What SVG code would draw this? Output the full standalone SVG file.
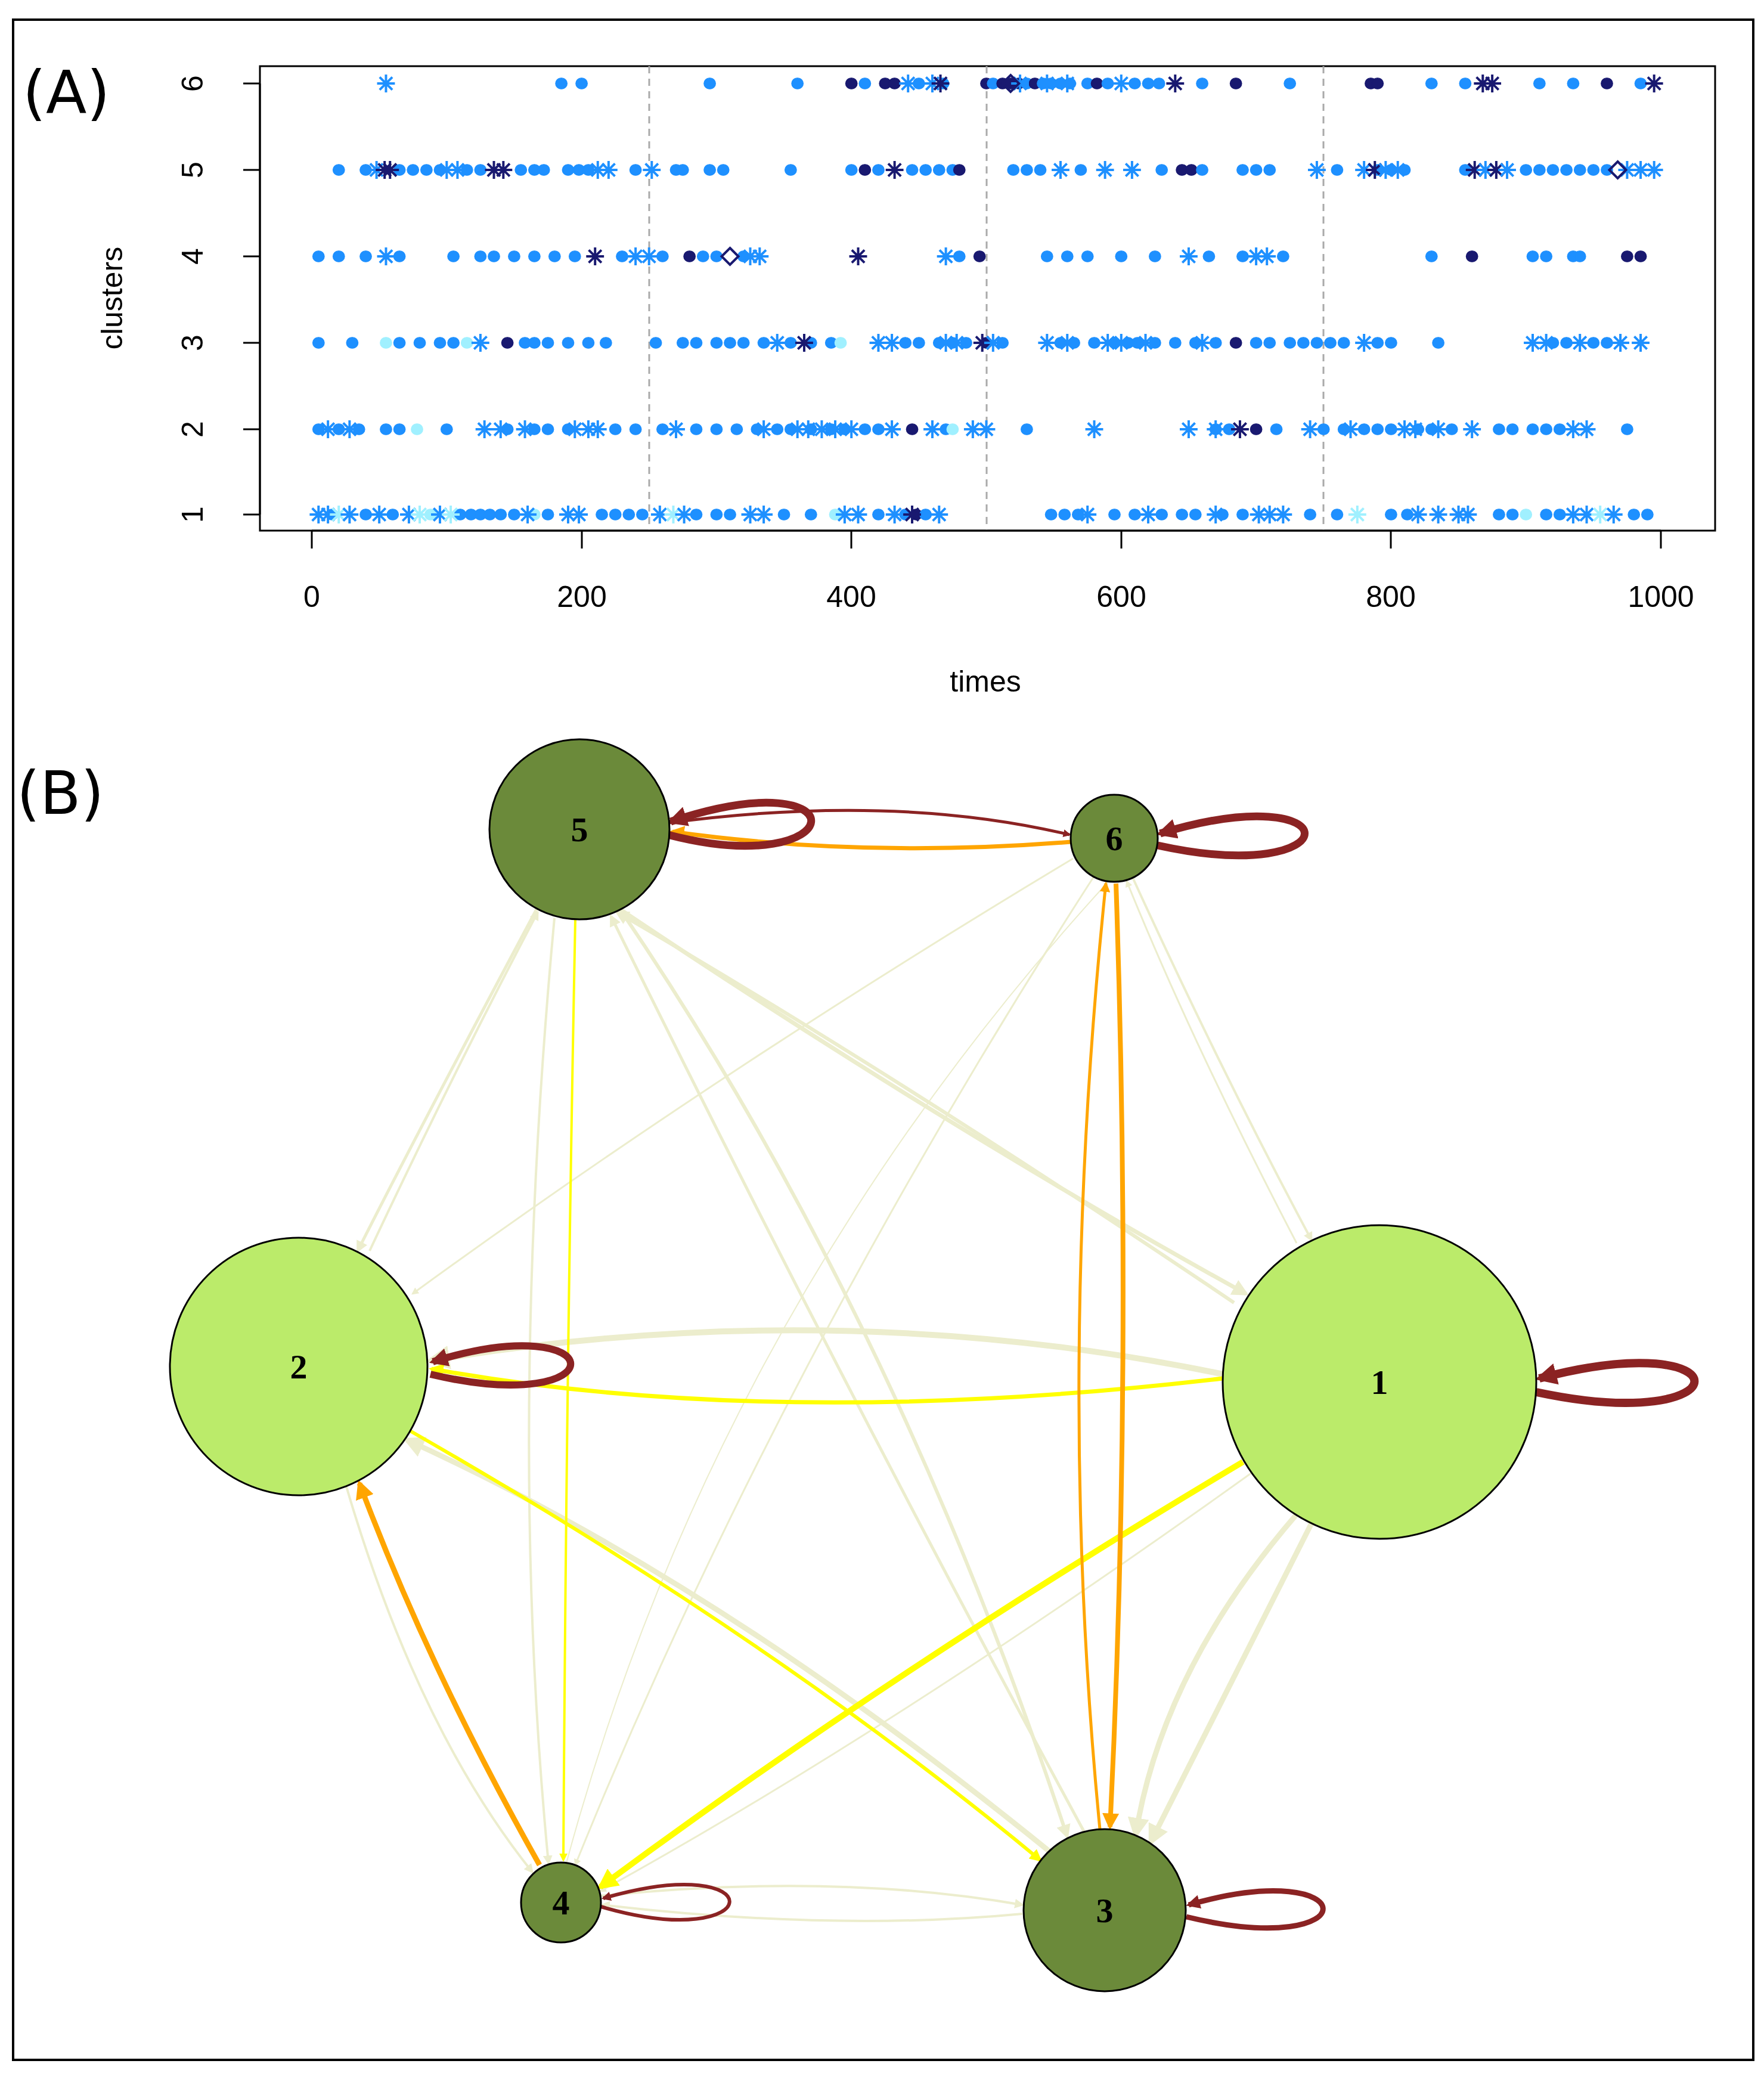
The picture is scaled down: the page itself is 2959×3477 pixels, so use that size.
<svg xmlns="http://www.w3.org/2000/svg" width="2959" height="3477" viewBox="0 0 2959 3477">
<style>
.ax{font-family:"Liberation Sans",Arial,sans-serif;font-size:50px;fill:#000}
.pl{font-family:"DejaVu Sans",sans-serif;font-size:100px;fill:#000}
.nl{font-family:"Liberation Serif",serif;font-size:58px;font-weight:bold;fill:#000;text-anchor:middle;dominant-baseline:central}
.e{fill:none}
.b{fill:#1e90ff;stroke:#1e90ff}.n{fill:#191970;stroke:#191970}.l{fill:#a0f0ff;stroke:#a0f0ff}
</style>
<defs>
<ellipse id="d" rx="4.1" ry="9.3"/>
<g id="s" fill="none" stroke-width="4"><path vector-effect="non-scaling-stroke" d="M0,-15V15M-6.6,0H6.6M-4.7,-10.6L4.7,10.6M-4.7,10.6L4.7,-10.6"/></g>
<polygon id="dm" points="0,-14 6.2,0 0,14 -6.2,0" fill="none" stroke="#191970" stroke-width="4" vector-effect="non-scaling-stroke"/>
<marker id="mr" viewBox="0 0 10 10" refX="8" refY="5" markerWidth="2.6" markerHeight="2.6" orient="auto"><path d="M0,0L10,5L0,10z" fill="#8b2323"/></marker>
<marker id="mo" viewBox="0 0 10 10" refX="8" refY="5" markerWidth="3.5" markerHeight="3.5" orient="auto"><path d="M0,0L10,5L0,10z" fill="#ffa500"/></marker>
<marker id="my" viewBox="0 0 10 10" refX="8" refY="5" markerWidth="3.5" markerHeight="3.5" orient="auto"><path d="M0,0L10,5L0,10z" fill="#ffff00"/></marker>
<marker id="mb" viewBox="0 0 10 10" refX="8" refY="5" markerWidth="4" markerHeight="4" orient="auto"><path d="M0,0L10,5L0,10z" fill="#ecedcd"/></marker>
</defs>
<rect width="2959" height="3477" fill="#fff"/>
<rect x="22" y="33" width="2919" height="3422" fill="none" stroke="#000" stroke-width="4"/>
<g id="panelA">
<text class="pl" x="38" y="190">(A)</text>
<rect x="436" y="111" width="2441" height="779" fill="none" stroke="#000" stroke-width="3"/>
<g stroke="#aaa" stroke-width="3" stroke-dasharray="12,9"><path d="M1089,111V890M1655,111V890M2220,111V890"/></g>
<g stroke="#000" stroke-width="3"><path d="M523,890V920M2786,890H523M976,890V920M1428,890V920M1881,890V920M2333,890V920M2786,890V920"/>
<path d="M436,140H408M436,863H408M436,140V863M436,285H408M436,430H408M436,575H408M436,720H408"/></g>
<g class="ax" text-anchor="middle"><text x="523" y="1018">0</text><text x="976" y="1018">200</text><text x="1428" y="1018">400</text><text x="1881" y="1018">600</text><text x="2333" y="1018">800</text><text x="2786" y="1018">1000</text>
<text x="1653" y="1160">times</text>
<text transform="translate(340,140) rotate(-90)">6</text><text transform="translate(340,285) rotate(-90)">5</text><text transform="translate(340,430) rotate(-90)">4</text><text transform="translate(340,575) rotate(-90)">3</text><text transform="translate(340,720) rotate(-90)">2</text><text transform="translate(340,863) rotate(-90)">1</text>
<text transform="translate(205,500) rotate(-90)">clusters</text></g>
<g transform="translate(523,0) scale(2.263,1)">
<g>
<use href="#d" x="185" y="140" class="b"/><use href="#d" x="200" y="140" class="b"/><use href="#d" x="295" y="140" class="b"/><use href="#d" x="360" y="140" class="b"/><use href="#d" x="400" y="140" class="n"/><use href="#d" x="410" y="140" class="b"/><use href="#d" x="425" y="140" class="n"/><use href="#d" x="432" y="140" class="n"/><use href="#d" x="450" y="140" class="b"/><use href="#d" x="468" y="140" class="b"/><use href="#d" x="500" y="140" class="n"/><use href="#d" x="505" y="140" class="b"/>
<use href="#d" x="512" y="140" class="n"/><use href="#d" x="518" y="140" class="n"/><use href="#d" x="524" y="140" class="n"/><use href="#d" x="530" y="140" class="b"/><use href="#d" x="536" y="140" class="n"/><use href="#d" x="542" y="140" class="b"/><use href="#d" x="548" y="140" class="b"/><use href="#d" x="555" y="140" class="b"/><use href="#d" x="562" y="140" class="b"/><use href="#d" x="575" y="140" class="b"/><use href="#d" x="582" y="140" class="n"/><use href="#d" x="590" y="140" class="b"/><use href="#d" x="610" y="140" class="b"/><use href="#d" x="620" y="140" class="b"/><use href="#d" x="628" y="140" class="b"/><use href="#d" x="660" y="140" class="b"/><use href="#d" x="685" y="140" class="n"/><use href="#d" x="725" y="140" class="b"/><use href="#d" x="785" y="140" class="n"/><use href="#d" x="790" y="140" class="n"/><use href="#d" x="830" y="140" class="b"/><use href="#d" x="855" y="140" class="b"/><use href="#d" x="910" y="140" class="b"/><use href="#d" x="935" y="140" class="b"/><use href="#d" x="960" y="140" class="n"/><use href="#d" x="985" y="140" class="b"/>
<use href="#s" x="55" y="140" class="b"/><use href="#s" x="442" y="140" class="b"/><use href="#s" x="460" y="140" class="b"/><use href="#s" x="466" y="140" class="n"/><use href="#s" x="525" y="140" class="b"/><use href="#s" x="545" y="140" class="b"/><use href="#s" x="560" y="140" class="b"/><use href="#s" x="600" y="140" class="b"/><use href="#s" x="640" y="140" class="n"/><use href="#s" x="868" y="140" class="n"/><use href="#s" x="875" y="140" class="n"/><use href="#s" x="995" y="140" class="n"/><use href="#dm" x="518" y="140"/>
</g>
<g>
<use href="#d" x="20" y="285" class="b"/><use href="#d" x="40" y="285" class="b"/><use href="#d" x="65" y="285" class="b"/><use href="#d" x="75" y="285" class="b"/><use href="#d" x="85" y="285" class="b"/><use href="#d" x="95" y="285" class="b"/><use href="#d" x="115" y="285" class="b"/><use href="#d" x="125" y="285" class="b"/><use href="#d" x="155" y="285" class="b"/><use href="#d" x="165" y="285" class="b"/><use href="#d" x="172" y="285" class="b"/><use href="#d" x="190" y="285" class="b"/><use href="#d" x="198" y="285" class="b"/><use href="#d" x="205" y="285" class="b"/><use href="#d" x="240" y="285" class="b"/><use href="#d" x="270" y="285" class="b"/><use href="#d" x="275" y="285" class="b"/><use href="#d" x="295" y="285" class="b"/><use href="#d" x="305" y="285" class="b"/><use href="#d" x="355" y="285" class="b"/><use href="#d" x="400" y="285" class="b"/><use href="#d" x="410" y="285" class="n"/><use href="#d" x="420" y="285" class="b"/><use href="#d" x="445" y="285" class="b"/><use href="#d" x="455" y="285" class="b"/><use href="#d" x="465" y="285" class="b"/><use href="#d" x="475" y="285" class="b"/><use href="#d" x="480" y="285" class="n"/><use href="#d" x="520" y="285" class="b"/><use href="#d" x="530" y="285" class="b"/><use href="#d" x="540" y="285" class="b"/><use href="#d" x="570" y="285" class="b"/><use href="#d" x="630" y="285" class="b"/><use href="#d" x="645" y="285" class="n"/><use href="#d" x="652" y="285" class="n"/><use href="#d" x="660" y="285" class="b"/><use href="#d" x="690" y="285" class="b"/><use href="#d" x="700" y="285" class="b"/><use href="#d" x="710" y="285" class="b"/><use href="#d" x="760" y="285" class="b"/><use href="#d" x="790" y="285" class="b"/><use href="#d" x="800" y="285" class="b"/><use href="#d" x="810" y="285" class="b"/><use href="#d" x="855" y="285" class="b"/><use href="#d" x="900" y="285" class="b"/><use href="#d" x="910" y="285" class="b"/><use href="#d" x="920" y="285" class="b"/><use href="#d" x="930" y="285" class="b"/><use href="#d" x="940" y="285" class="b"/><use href="#d" x="950" y="285" class="b"/><use href="#d" x="960" y="285" class="b"/>
<use href="#s" x="48" y="285" class="b"/><use href="#s" x="54" y="285" class="n"/><use href="#s" x="58" y="285" class="n"/><use href="#s" x="100" y="285" class="b"/><use href="#s" x="108" y="285" class="b"/><use href="#s" x="135" y="285" class="n"/><use href="#s" x="142" y="285" class="n"/><use href="#s" x="212" y="285" class="b"/><use href="#s" x="220" y="285" class="b"/><use href="#s" x="252" y="285" class="b"/><use href="#s" x="432" y="285" class="n"/><use href="#s" x="555" y="285" class="b"/><use href="#s" x="588" y="285" class="b"/><use href="#s" x="608" y="285" class="b"/><use href="#s" x="745" y="285" class="b"/><use href="#s" x="780" y="285" class="b"/><use href="#s" x="788" y="285" class="n"/><use href="#s" x="796" y="285" class="b"/><use href="#s" x="805" y="285" class="b"/><use href="#s" x="862" y="285" class="n"/><use href="#s" x="870" y="285" class="b"/><use href="#s" x="878" y="285" class="n"/><use href="#s" x="886" y="285" class="b"/><use href="#s" x="975" y="285" class="b"/><use href="#s" x="985" y="285" class="b"/><use href="#s" x="995" y="285" class="b"/><use href="#dm" x="968" y="285"/>
</g>
<g>
<use href="#d" x="5" y="430" class="b"/><use href="#d" x="20" y="430" class="b"/><use href="#d" x="40" y="430" class="b"/><use href="#d" x="65" y="430" class="b"/><use href="#d" x="105" y="430" class="b"/><use href="#d" x="125" y="430" class="b"/><use href="#d" x="135" y="430" class="b"/><use href="#d" x="150" y="430" class="b"/><use href="#d" x="165" y="430" class="b"/><use href="#d" x="180" y="430" class="b"/><use href="#d" x="195" y="430" class="b"/><use href="#d" x="230" y="430" class="b"/><use href="#d" x="260" y="430" class="b"/><use href="#d" x="280" y="430" class="n"/><use href="#d" x="290" y="430" class="b"/><use href="#d" x="300" y="430" class="b"/><use href="#d" x="320" y="430" class="b"/><use href="#d" x="480" y="430" class="b"/><use href="#d" x="495" y="430" class="n"/><use href="#d" x="545" y="430" class="b"/><use href="#d" x="560" y="430" class="b"/><use href="#d" x="575" y="430" class="b"/><use href="#d" x="600" y="430" class="b"/><use href="#d" x="625" y="430" class="b"/><use href="#d" x="665" y="430" class="b"/><use href="#d" x="690" y="430" class="b"/><use href="#d" x="720" y="430" class="b"/><use href="#d" x="830" y="430" class="b"/><use href="#d" x="860" y="430" class="n"/><use href="#d" x="905" y="430" class="b"/><use href="#d" x="915" y="430" class="b"/><use href="#d" x="935" y="430" class="b"/><use href="#d" x="940" y="430" class="b"/><use href="#d" x="975" y="430" class="n"/><use href="#d" x="985" y="430" class="n"/>
<use href="#s" x="55" y="430" class="b"/><use href="#s" x="210" y="430" class="n"/><use href="#s" x="240" y="430" class="b"/><use href="#s" x="250" y="430" class="b"/><use href="#s" x="325" y="430" class="b"/><use href="#s" x="332" y="430" class="b"/><use href="#s" x="405" y="430" class="n"/><use href="#s" x="470" y="430" class="b"/><use href="#s" x="650" y="430" class="b"/><use href="#s" x="700" y="430" class="b"/><use href="#s" x="708" y="430" class="b"/><use href="#dm" x="310" y="430"/>
</g>
<g>
<use href="#d" x="5" y="575" class="b"/><use href="#d" x="30" y="575" class="b"/><use href="#d" x="55" y="575" class="l"/><use href="#d" x="65" y="575" class="b"/><use href="#d" x="80" y="575" class="b"/><use href="#d" x="95" y="575" class="b"/><use href="#d" x="105" y="575" class="b"/><use href="#d" x="115" y="575" class="l"/><use href="#d" x="145" y="575" class="n"/><use href="#d" x="158" y="575" class="b"/><use href="#d" x="165" y="575" class="b"/><use href="#d" x="175" y="575" class="b"/><use href="#d" x="190" y="575" class="b"/><use href="#d" x="205" y="575" class="b"/><use href="#d" x="218" y="575" class="b"/><use href="#d" x="255" y="575" class="b"/><use href="#d" x="275" y="575" class="b"/><use href="#d" x="285" y="575" class="b"/><use href="#d" x="300" y="575" class="b"/><use href="#d" x="310" y="575" class="b"/><use href="#d" x="320" y="575" class="b"/><use href="#d" x="335" y="575" class="b"/><use href="#d" x="355" y="575" class="b"/><use href="#d" x="370" y="575" class="b"/><use href="#d" x="385" y="575" class="b"/><use href="#d" x="392" y="575" class="l"/><use href="#d" x="440" y="575" class="b"/><use href="#d" x="450" y="575" class="b"/><use href="#d" x="465" y="575" class="b"/><use href="#d" x="475" y="575" class="b"/><use href="#d" x="485" y="575" class="b"/><use href="#d" x="500" y="575" class="n"/><use href="#d" x="512" y="575" class="b"/><use href="#d" x="555" y="575" class="b"/><use href="#d" x="565" y="575" class="b"/><use href="#d" x="580" y="575" class="b"/><use href="#d" x="595" y="575" class="b"/><use href="#d" x="605" y="575" class="b"/><use href="#d" x="612" y="575" class="b"/><use href="#d" x="625" y="575" class="b"/><use href="#d" x="640" y="575" class="b"/><use href="#d" x="655" y="575" class="b"/><use href="#d" x="670" y="575" class="b"/><use href="#d" x="685" y="575" class="n"/><use href="#d" x="700" y="575" class="b"/><use href="#d" x="710" y="575" class="b"/><use href="#d" x="725" y="575" class="b"/><use href="#d" x="735" y="575" class="b"/><use href="#d" x="745" y="575" class="b"/><use href="#d" x="755" y="575" class="b"/><use href="#d" x="765" y="575" class="b"/><use href="#d" x="790" y="575" class="b"/><use href="#d" x="800" y="575" class="b"/><use href="#d" x="835" y="575" class="b"/><use href="#d" x="920" y="575" class="b"/><use href="#d" x="930" y="575" class="b"/><use href="#d" x="950" y="575" class="b"/><use href="#d" x="960" y="575" class="b"/>
<use href="#s" x="125" y="575" class="b"/><use href="#s" x="345" y="575" class="b"/><use href="#s" x="365" y="575" class="n"/><use href="#s" x="420" y="575" class="b"/><use href="#s" x="430" y="575" class="b"/><use href="#s" x="470" y="575" class="b"/><use href="#s" x="478" y="575" class="b"/><use href="#s" x="497" y="575" class="n"/><use href="#s" x="505" y="575" class="b"/><use href="#s" x="545" y="575" class="b"/><use href="#s" x="560" y="575" class="b"/><use href="#s" x="590" y="575" class="b"/><use href="#s" x="600" y="575" class="b"/><use href="#s" x="618" y="575" class="b"/><use href="#s" x="660" y="575" class="b"/><use href="#s" x="780" y="575" class="b"/><use href="#s" x="905" y="575" class="b"/><use href="#s" x="915" y="575" class="b"/><use href="#s" x="940" y="575" class="b"/><use href="#s" x="970" y="575" class="b"/><use href="#s" x="985" y="575" class="b"/>
</g>
<g>
<use href="#d" x="5" y="720" class="b"/><use href="#d" x="20" y="720" class="b"/><use href="#d" x="35" y="720" class="b"/><use href="#d" x="55" y="720" class="b"/><use href="#d" x="65" y="720" class="b"/><use href="#d" x="78" y="720" class="l"/><use href="#d" x="100" y="720" class="b"/><use href="#d" x="145" y="720" class="b"/><use href="#d" x="165" y="720" class="b"/><use href="#d" x="175" y="720" class="b"/><use href="#d" x="190" y="720" class="b"/><use href="#d" x="225" y="720" class="b"/><use href="#d" x="240" y="720" class="b"/><use href="#d" x="260" y="720" class="b"/><use href="#d" x="285" y="720" class="b"/><use href="#d" x="300" y="720" class="b"/><use href="#d" x="315" y="720" class="b"/><use href="#d" x="330" y="720" class="b"/><use href="#d" x="345" y="720" class="b"/><use href="#d" x="355" y="720" class="b"/><use href="#d" x="370" y="720" class="b"/><use href="#d" x="385" y="720" class="b"/><use href="#d" x="395" y="720" class="b"/><use href="#d" x="410" y="720" class="b"/><use href="#d" x="420" y="720" class="b"/><use href="#d" x="445" y="720" class="n"/><use href="#d" x="470" y="720" class="b"/><use href="#d" x="475" y="720" class="l"/><use href="#d" x="530" y="720" class="b"/><use href="#d" x="670" y="720" class="b"/><use href="#d" x="680" y="720" class="b"/><use href="#d" x="700" y="720" class="n"/><use href="#d" x="715" y="720" class="b"/><use href="#d" x="750" y="720" class="b"/><use href="#d" x="765" y="720" class="b"/><use href="#d" x="780" y="720" class="b"/><use href="#d" x="790" y="720" class="b"/><use href="#d" x="800" y="720" class="b"/><use href="#d" x="820" y="720" class="b"/><use href="#d" x="830" y="720" class="b"/><use href="#d" x="845" y="720" class="b"/><use href="#d" x="880" y="720" class="b"/><use href="#d" x="890" y="720" class="b"/><use href="#d" x="905" y="720" class="b"/><use href="#d" x="915" y="720" class="b"/><use href="#d" x="925" y="720" class="b"/><use href="#d" x="975" y="720" class="b"/>
<use href="#s" x="12" y="720" class="b"/><use href="#s" x="28" y="720" class="b"/><use href="#s" x="128" y="720" class="b"/><use href="#s" x="140" y="720" class="b"/><use href="#s" x="158" y="720" class="b"/><use href="#s" x="195" y="720" class="b"/><use href="#s" x="205" y="720" class="b"/><use href="#s" x="212" y="720" class="b"/><use href="#s" x="270" y="720" class="b"/><use href="#s" x="335" y="720" class="b"/><use href="#s" x="360" y="720" class="b"/><use href="#s" x="368" y="720" class="b"/><use href="#s" x="378" y="720" class="b"/><use href="#s" x="388" y="720" class="b"/><use href="#s" x="400" y="720" class="b"/><use href="#s" x="430" y="720" class="b"/><use href="#s" x="460" y="720" class="b"/><use href="#s" x="490" y="720" class="b"/><use href="#s" x="500" y="720" class="b"/><use href="#s" x="580" y="720" class="b"/><use href="#s" x="650" y="720" class="b"/><use href="#s" x="670" y="720" class="b"/><use href="#s" x="688" y="720" class="n"/><use href="#s" x="740" y="720" class="b"/><use href="#s" x="770" y="720" class="b"/><use href="#s" x="810" y="720" class="b"/><use href="#s" x="818" y="720" class="b"/><use href="#s" x="835" y="720" class="b"/><use href="#s" x="860" y="720" class="b"/><use href="#s" x="935" y="720" class="b"/><use href="#s" x="945" y="720" class="b"/>
</g>
<g>
<use href="#d" x="15" y="863" class="b"/><use href="#d" x="40" y="863" class="b"/><use href="#d" x="60" y="863" class="b"/><use href="#d" x="88" y="863" class="l"/><use href="#d" x="110" y="863" class="b"/><use href="#d" x="118" y="863" class="b"/><use href="#d" x="125" y="863" class="b"/><use href="#d" x="132" y="863" class="b"/><use href="#d" x="140" y="863" class="b"/><use href="#d" x="150" y="863" class="b"/><use href="#d" x="165" y="863" class="l"/><use href="#d" x="175" y="863" class="b"/><use href="#d" x="215" y="863" class="b"/><use href="#d" x="225" y="863" class="b"/><use href="#d" x="235" y="863" class="b"/><use href="#d" x="245" y="863" class="b"/><use href="#d" x="285" y="863" class="b"/><use href="#d" x="300" y="863" class="b"/><use href="#d" x="310" y="863" class="b"/><use href="#d" x="350" y="863" class="b"/><use href="#d" x="370" y="863" class="b"/><use href="#d" x="388" y="863" class="l"/><use href="#d" x="420" y="863" class="b"/><use href="#d" x="440" y="863" class="b"/><use href="#d" x="448" y="863" class="n"/><use href="#d" x="455" y="863" class="b"/><use href="#d" x="548" y="863" class="b"/><use href="#d" x="558" y="863" class="b"/><use href="#d" x="568" y="863" class="b"/><use href="#d" x="595" y="863" class="b"/><use href="#d" x="610" y="863" class="b"/><use href="#d" x="630" y="863" class="b"/><use href="#d" x="645" y="863" class="b"/><use href="#d" x="655" y="863" class="b"/><use href="#d" x="675" y="863" class="b"/><use href="#d" x="690" y="863" class="b"/><use href="#d" x="740" y="863" class="b"/><use href="#d" x="760" y="863" class="b"/><use href="#d" x="800" y="863" class="b"/><use href="#d" x="812" y="863" class="b"/><use href="#d" x="880" y="863" class="b"/><use href="#d" x="890" y="863" class="b"/><use href="#d" x="900" y="863" class="l"/><use href="#d" x="915" y="863" class="b"/><use href="#d" x="925" y="863" class="b"/><use href="#d" x="980" y="863" class="b"/><use href="#d" x="990" y="863" class="b"/>
<use href="#s" x="5" y="863" class="b"/><use href="#s" x="12" y="863" class="b"/><use href="#s" x="20" y="863" class="l"/><use href="#s" x="28" y="863" class="b"/><use href="#s" x="50" y="863" class="b"/><use href="#s" x="72" y="863" class="b"/><use href="#s" x="80" y="863" class="l"/><use href="#s" x="95" y="863" class="b"/><use href="#s" x="103" y="863" class="l"/><use href="#s" x="160" y="863" class="b"/><use href="#s" x="190" y="863" class="b"/><use href="#s" x="198" y="863" class="b"/><use href="#s" x="258" y="863" class="b"/><use href="#s" x="268" y="863" class="l"/><use href="#s" x="276" y="863" class="b"/><use href="#s" x="325" y="863" class="b"/><use href="#s" x="335" y="863" class="b"/><use href="#s" x="395" y="863" class="b"/><use href="#s" x="405" y="863" class="b"/><use href="#s" x="432" y="863" class="b"/><use href="#s" x="445" y="863" class="n"/><use href="#s" x="465" y="863" class="b"/><use href="#s" x="575" y="863" class="b"/><use href="#s" x="620" y="863" class="b"/><use href="#s" x="670" y="863" class="b"/><use href="#s" x="702" y="863" class="b"/><use href="#s" x="710" y="863" class="b"/><use href="#s" x="720" y="863" class="b"/><use href="#s" x="775" y="863" class="l"/><use href="#s" x="820" y="863" class="b"/><use href="#s" x="835" y="863" class="b"/><use href="#s" x="850" y="863" class="b"/><use href="#s" x="857" y="863" class="b"/><use href="#s" x="935" y="863" class="b"/><use href="#s" x="945" y="863" class="b"/><use href="#s" x="955" y="863" class="l"/><use href="#s" x="965" y="863" class="b"/>
</g>
</g>
</g>
<text class="pl" x="28" y="1365">(B)</text>
<g id="edges" class="e">
<g stroke="#ecedcd">
<path d="M2052,2305 Q1400,2170 722,2282" stroke-width="10" marker-end="url(#mb)"/>
<path d="M1760,3105 Q1200,2650 682,2415" stroke-width="9" marker-end="url(#mb)"/>
<path d="M2175,2540 Q1950,2800 1905,3078" stroke-width="9" marker-end="url(#mb)"/>
<path d="M2200,2555 Q2050,2850 1930,3090" stroke-width="9" marker-end="url(#mb)"/>
<path d="M1040,1525 Q1600,1900 2090,2170" stroke-width="7" marker-end="url(#mb)"/>
<path d="M2070,2185 Q1500,1800 1035,1530" stroke-width="6" marker-end="url(#mb)"/>
<path d="M900,1525 Q700,1900 600,2098" stroke-width="5" marker-end="url(#mb)"/>
<path d="M620,2098 Q760,1800 902,1530" stroke-width="4" marker-end="url(#mb)"/>
<path d="M1040,1525 Q1500,2200 1790,3080" stroke-width="6" marker-end="url(#mb)"/>
<path d="M1820,3075 Q1400,2300 1025,1537" stroke-width="5" marker-end="url(#mb)"/>
<path d="M1800,1440 Q1200,1800 692,2170" stroke-width="3" marker-end="url(#mb)"/>
<path d="M1900,1472 Q2050,1800 2200,2080" stroke-width="4" marker-end="url(#mb)"/>
<path d="M2175,2085 Q2000,1750 1890,1478" stroke-width="3" marker-end="url(#mb)"/>
<path d="M1835,1470 Q1300,2300 965,3128" stroke-width="3" marker-end="url(#mb)"/>
<path d="M950,3125 Q1200,2200 1858,1480" stroke-width="2" marker-end="url(#mb)"/>
<path d="M1005,3180 Q1400,3140 1715,3195" stroke-width="4" marker-end="url(#mb)"/>
<path d="M1715,3210 Q1400,3240 1010,3195" stroke-width="4" marker-end="url(#mb)"/>
<path d="M580,2490 Q700,2900 893,3140" stroke-width="4" marker-end="url(#mb)"/>
<path d="M2100,2470 Q1500,2900 1007,3172" stroke-width="3" marker-end="url(#mb)"/>
<path d="M930,1540 Q850,2400 920,3125" stroke-width="4" marker-end="url(#mb)"/>
</g>
<g stroke="#ffff00">
<path d="M965,1543 Q950,2300 945,3120" stroke-width="4" marker-end="url(#my)"/>
<path d="M2051,2312 Q1300,2400 724,2296" stroke-width="7" marker-end="url(#my)"/>
<path d="M2085,2452 Q1500,2800 1007,3165" stroke-width="10" marker-end="url(#my)"/>
<path d="M688,2400 Q1300,2750 1745,3120" stroke-width="6" marker-end="url(#my)"/>
</g>
<g stroke="#ffa500">
<path d="M1797,1412 Q1450,1440 1128,1395" stroke-width="7" marker-end="url(#mo)"/>
<path d="M1872,1482 Q1900,2300 1862,3064" stroke-width="8" marker-end="url(#mo)"/>
<path d="M1845,3068 Q1770,2300 1855,1482" stroke-width="5" marker-end="url(#mo)"/>
<path d="M905,3128 Q720,2800 603,2488" stroke-width="9" marker-end="url(#mo)"/>
</g>
<g stroke="#8b2323">
<path d="M1123,1380 Q1500,1330 1794,1400" stroke-width="5" marker-end="url(#mr)"/>
<path d="M1120,1400 C1430,1480 1450,1270 1125,1378" stroke-width="13" marker-end="url(#mr)"/>
<path d="M1942,1418 C2270,1490 2270,1300 1946,1398" stroke-width="13" marker-end="url(#mr)"/>
<path d="M722,2305 C1040,2380 1030,2190 726,2284" stroke-width="12" marker-end="url(#mr)"/>
<path d="M2577,2335 C2930,2410 2930,2220 2582,2312" stroke-width="14" marker-end="url(#mr)"/>
<path d="M1990,3215 C2300,3290 2290,3110 1994,3195" stroke-width="9" marker-end="url(#mr)"/>
<path d="M1008,3198 C1290,3280 1300,3100 1012,3184" stroke-width="6" marker-end="url(#mr)"/>
</g>
</g>
<g id="node5"><circle cx="972" cy="1391" r="151" fill="#6b8a3a" stroke="#000" stroke-width="3"/><text class="nl" x="972" y="1391">5</text></g>
<g id="node6"><circle cx="1869" cy="1406" r="73" fill="#6b8a3a" stroke="#000" stroke-width="3"/><text class="nl" x="1869" y="1406">6</text></g>
<g id="node2"><circle cx="501" cy="2292" r="216" fill="#bbeb6a" stroke="#000" stroke-width="3"/><text class="nl" x="501" y="2292">2</text></g>
<g id="node1"><circle cx="2314" cy="2318" r="263" fill="#bbeb6a" stroke="#000" stroke-width="3"/><text class="nl" x="2314" y="2318">1</text></g>
<g id="node4"><circle cx="941" cy="3191" r="67" fill="#6b8a3a" stroke="#000" stroke-width="3"/><text class="nl" x="941" y="3191">4</text></g>
<g id="node3"><circle cx="1853" cy="3204" r="136" fill="#6b8a3a" stroke="#000" stroke-width="3"/><text class="nl" x="1853" y="3204">3</text></g>
</svg>
